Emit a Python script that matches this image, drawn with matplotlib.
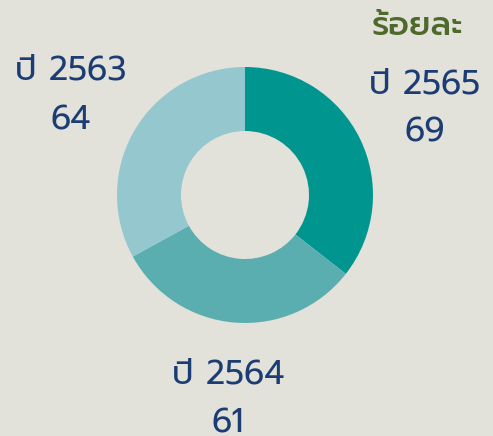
import matplotlib
matplotlib.use("Agg")
import matplotlib.pyplot as plt

years = ["ปี 2565", "ปี 2564", "ปี 2563"]
values = [69, 61, 64]
colors = ["#00968f", "#5baeb0", "#94c7ce"]
unit_label = "ร้อยละ"

plt.rcParams["font.family"] = ["Prompt", "Kanit", "DejaVu Sans"]

fig = plt.figure(figsize=(4.93, 4.36), dpi=100)
fig.patch.set_facecolor("#e2e1da")
ax = fig.add_axes([0, 0, 1, 1])
ax.axis("off")

ax.pie(values, colors=colors, startangle=90, counterclock=False,
       radius=128, center=(245, 241), wedgeprops=dict(width=64))
ax.set_xlim(0, 493)
ax.set_ylim(0, 436)
ax.set_aspect("equal")

navy = "#1c3d74"
# (x, baseline of year, baseline of value)
lab_pos = [(425, 342, 294), (228, 53, 4), (71, 357, 307)]
for (x, y1, y2), yr, v in zip(lab_pos, years, values):
    ax.text(x, y1, yr, ha="center", va="baseline", fontsize=24, color=navy)
    ax.text(x, y2, str(v), ha="center", va="baseline", fontsize=24, color=navy)

ax.text(417, 401, unit_label, ha="center", va="baseline", fontsize=24,
        color="#4d6a2b", fontweight="medium")

fig.savefig("out.png", dpi=100, facecolor=fig.get_facecolor())
